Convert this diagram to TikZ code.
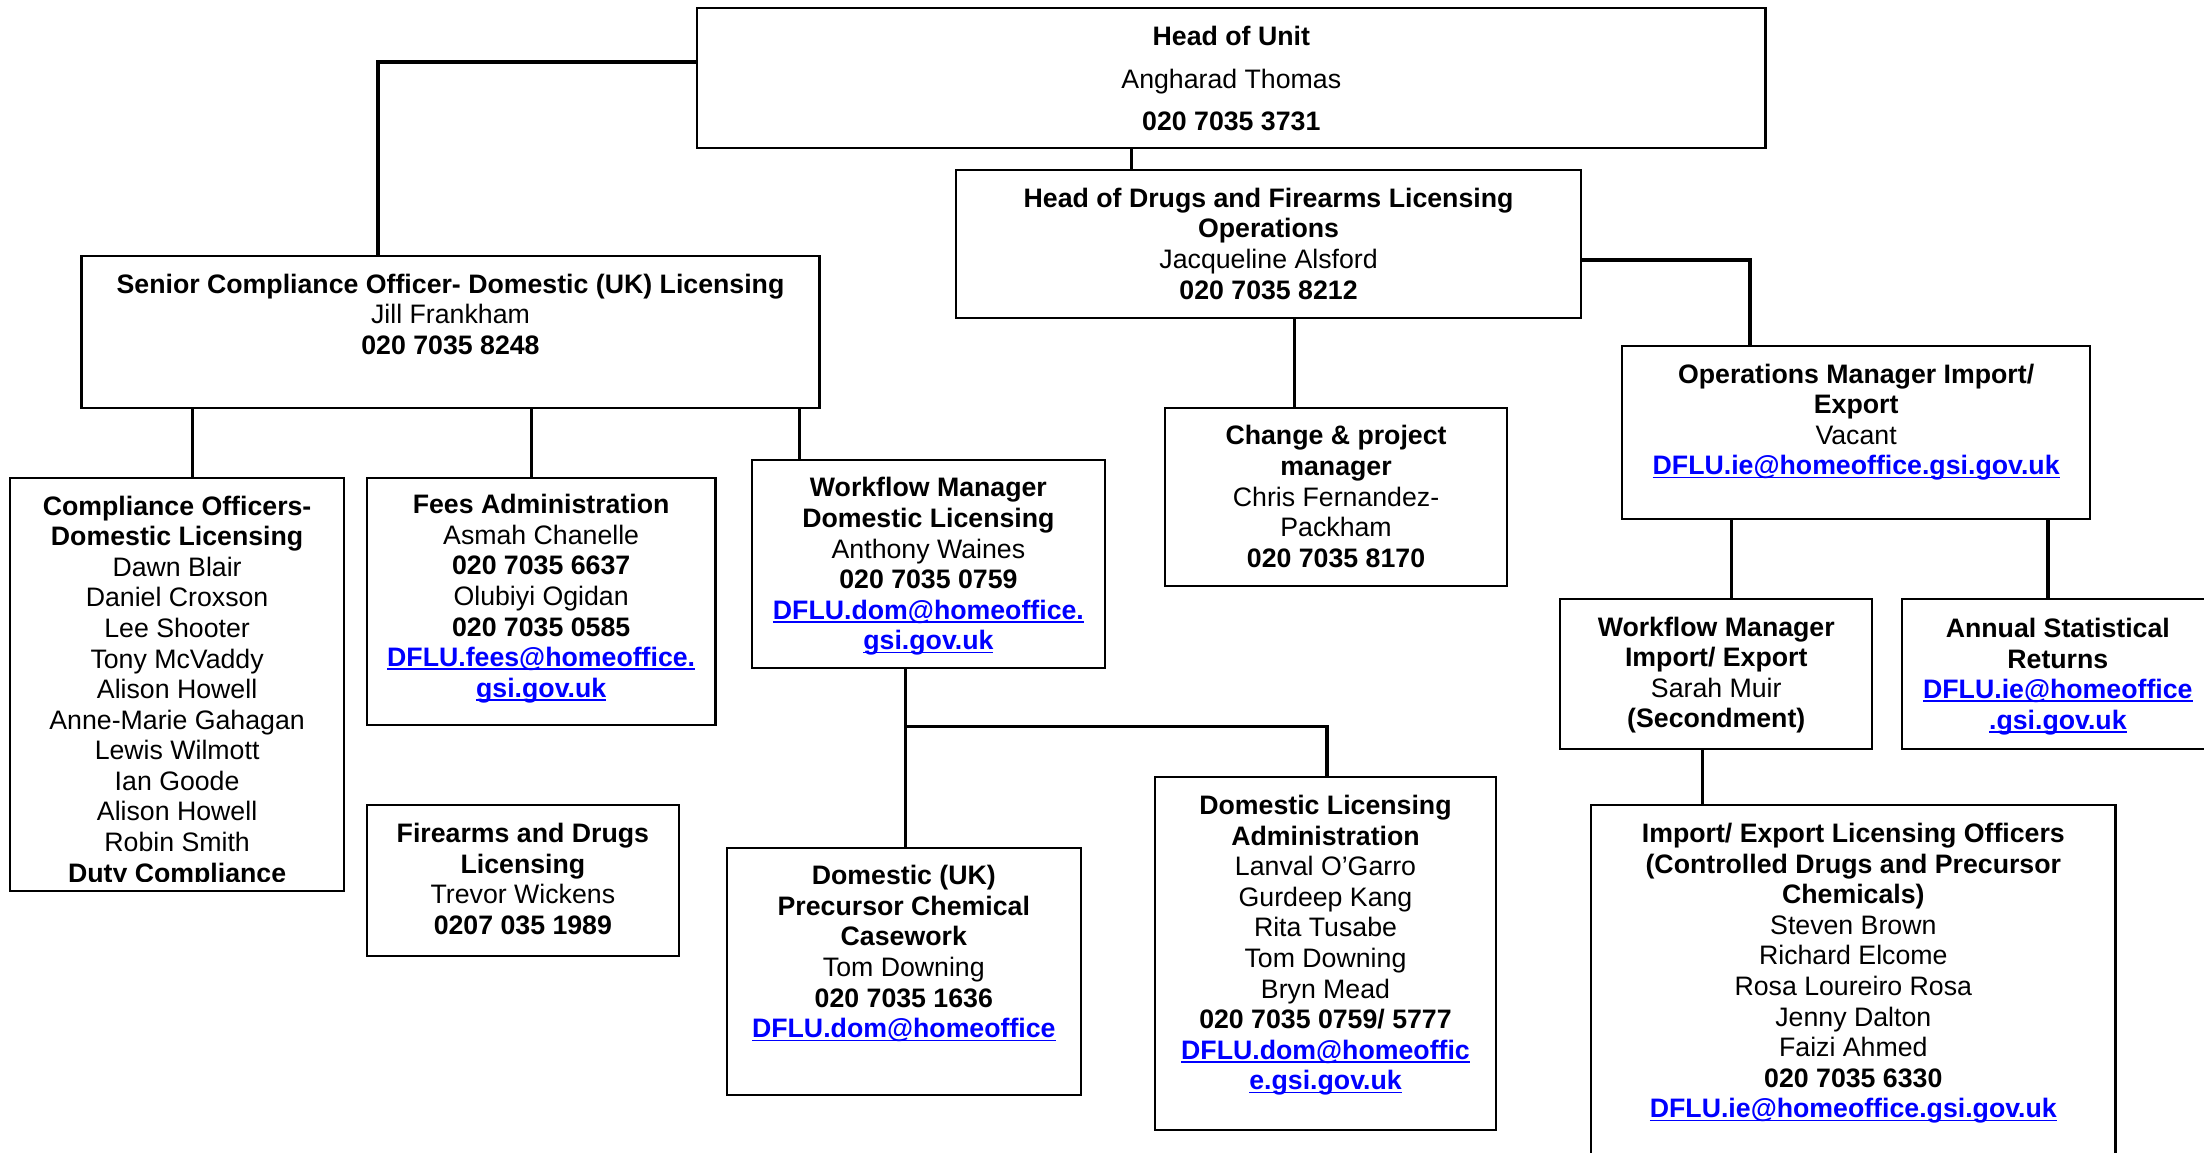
\documentclass[tikz,border=0pt]{standalone}
\usepackage{fontspec}
\setmainfont{Liberation Sans}
\usetikzlibrary{calc}
\definecolor{linkblue}{RGB}{0,0,255}
\newcommand{\lnk}[1]{{\color{linkblue}\bfseries\setbox0\hbox{#1}\rlap{\rule[-2.6pt]{\wd0}{1.3pt}}\box0}}
\newcommand{\fst}{\rule{0pt}{15pt}}
\tikzset{
  box/.style={draw=black, line width=1.5pt, rectangle, inner sep=0pt, outer sep=0pt, anchor=north west},
  txt/.style={align=center, inner sep=0pt, outer sep=0pt, anchor=north, font=\fontsize{19}{21.75}\selectfont},
  conn/.style={draw=black, line width=2.4pt}
}
\begin{document}
\begin{tikzpicture}[x=1pt,y=-1pt]
\clip (0,0) rectangle (1568,820);
\fill[white] (0,0) rectangle (1568,820);
% boxes
\node[box, minimum width=760pt, minimum height=99pt] (hou) at (496,6) {};
\node[box, minimum width=445pt, minimum height=105pt] (hod) at (680,121) {};
\node[box, minimum width=525pt, minimum height=108pt] (sco) at (58,182) {};
\node[box, minimum width=238pt, minimum height=294pt] (co) at (7,340) {};
\node[box, minimum width=248pt, minimum height=176pt] (fees) at (261,340) {};
\node[box, minimum width=222pt, minimum height=107pt] (fdl) at (261,573) {};
\node[box, minimum width=251pt, minimum height=148pt] (wmd) at (535,327) {};
\node[box, minimum width=243pt, minimum height=127pt] (cpm) at (829,290) {};
\node[box, minimum width=333pt, minimum height=123pt] (omi) at (1154,246) {};
\node[box, minimum width=222pt, minimum height=107pt] (wmi) at (1110,426) {};
\node[box, minimum width=222pt, minimum height=107pt] (asr) at (1353,426) {};
\node[box, minimum width=252pt, minimum height=176pt] (dpc) at (517,603) {};
\node[box, minimum width=242pt, minimum height=251pt] (dla) at (822,553) {};
\node[box, minimum width=373pt, minimum height=260pt] (ieo) at (1132,573) {};
% connectors
\draw[conn] ([yshift=11.5pt]hou.west) -| ($(sco.north west)+(211,0)$);
\draw[conn] ($(hou.south west)+(309,0)$) -- ($(hod.north west)+(125,0)$);
\draw[conn] ($(sco.south west)+(79,0)$) -- ($(co.north west)+(130,0)$);
\draw[conn] ($(sco.south west)+(320,0)$) -- ($(fees.north west)+(117,0)$);
\draw[conn] ($(sco.south west)+(511,0)$) -- ($(wmd.north west)+(34,0)$);
\draw[conn] ($(hod.south west)+(241,0)$) -- ($(cpm.north west)+(92,0)$);
\draw[conn] ([yshift=-11.5pt]hod.east) -| ($(omi.north west)+(91,0)$);
\draw[conn] ($(omi.south west)+(78,0)$) -- ($(wmi.north west)+(122,0)$);
\draw[conn] ($(omi.south west)+(303,0)$) -- ($(asr.north west)+(104,0)$);
\draw[conn] ($(wmd.south west)+(109,0)$) -- ($(dpc.north west)+(127,0)$);
\draw[conn] ($(wmd.south west)+(109,42)$) -| ($(dla.north west)+(122,0)$);
\draw[conn] ($(wmi.south west)+(101,0)$) -- ($(ieo.north west)+(79,0)$);
% texts
\node[txt] (houT) at ($(hou.north)+(0,11.5)$) {\fst\textbf{Head of Unit}\\[8.5pt] Angharad Thomas\\[8.5pt] \textbf{020 7035 3731}};
\node[txt] (hodT) at ($(hod.north)+(0,11.5)$) {\fst\textbf{Head of Drugs and Firearms Licensing}\\ \textbf{Operations}\\ Jacqueline Alsford\\ \textbf{020 7035 8212}};
\node[txt] (scoT) at ($(sco.north)+(0,11.5)$) {\fst\textbf{Senior Compliance Officer- Domestic (UK) Licensing}\\ Jill Frankham\\ \textbf{020 7035 8248}};
\begin{scope}
\clip (7,340) rectangle (245,627);
\node[txt] (coT) at ($(co.north)+(0,11.5)$) {\fst\textbf{Compliance Officers-}\\ \textbf{Domestic Licensing}\\ Dawn Blair\\ Daniel Croxson\\ Lee Shooter\\ Tony McVaddy\\ Alison Howell\\ Anne-Marie Gahagan\\ Lewis Wilmott\\ Ian Goode\\ Alison Howell\\ Robin Smith\\ \textbf{Duty Compliance}};
\end{scope}
\node[txt] (feesT) at ($(fees.north)+(0,10.5)$) {\fst\textbf{Fees Administration}\\ Asmah Chanelle\\ \textbf{020 7035 6637}\\ Olubiyi Ogidan\\ \textbf{020 7035 0585}\\ \lnk{DFLU.fees@homeoffice.}\\ \lnk{gsi.gov.uk}};
\node[txt] (fdlT) at ($(fdl.north)+(0,11.5)$) {\fst\textbf{Firearms and Drugs}\\ \textbf{Licensing}\\ Trevor Wickens\\ \textbf{0207 035 1989}};
\node[txt] (wmdT) at ($(wmd.north)+(0,11.5)$) {\fst\textbf{Workflow Manager}\\ \textbf{Domestic Licensing}\\ Anthony Waines\\ \textbf{020 7035 0759}\\ \lnk{DFLU.dom@homeoffice.}\\ \lnk{gsi.gov.uk}};
\node[txt] (cpmT) at ($(cpm.north)+(0,11.5)$) {\fst\textbf{Change \& project}\\ \textbf{manager}\\ Chris Fernandez-\\ Packham\\ \textbf{020 7035 8170}};
\node[txt] (omiT) at ($(omi.north)+(0,11.5)$) {\fst\textbf{Operations Manager Import/}\\ \textbf{Export}\\ Vacant\\ \lnk{DFLU.ie@homeoffice.gsi.gov.uk}};
\node[txt] (wmiT) at ($(wmi.north)+(0,11.5)$) {\fst\textbf{Workflow Manager}\\ \textbf{Import/ Export}\\ Sarah Muir\\ \textbf{(Secondment)}};
\node[txt] (asrT) at ($(asr.north)+(0,12.5)$) {\fst\textbf{Annual Statistical}\\ \textbf{Returns}\\ \lnk{DFLU.ie@homeoffice}\\ \lnk{.gsi.gov.uk}};
\node[txt] (dpcT) at ($(dpc.north)+(0,11.5)$) {\fst\textbf{Domestic (UK)}\\ \textbf{Precursor Chemical}\\ \textbf{Casework}\\ Tom Downing\\ \textbf{020 7035 1636}\\ \lnk{DFLU.dom@homeoffice}};
\node[txt] (dlaT) at ($(dla.north)+(0,11.5)$) {\fst\textbf{Domestic Licensing}\\ \textbf{Administration}\\ Lanval O’Garro\\ Gurdeep Kang\\ Rita Tusabe\\ Tom Downing\\ Bryn Mead\\ \textbf{020 7035 0759/ 5777}\\ \lnk{DFLU.dom@homeoffic}\\ \lnk{e.gsi.gov.uk}};
\node[txt] (ieoT) at ($(ieo.north)+(0,11.5)$) {\fst\textbf{Import/ Export Licensing Officers}\\ \textbf{(Controlled Drugs and Precursor}\\ \textbf{Chemicals)}\\ Steven Brown\\ Richard Elcome\\ Rosa Loureiro Rosa\\ Jenny Dalton\\ Faizi Ahmed\\ \textbf{020 7035 6330}\\ \lnk{DFLU.ie@homeoffice.gsi.gov.uk}};
\end{tikzpicture}
\end{document}
